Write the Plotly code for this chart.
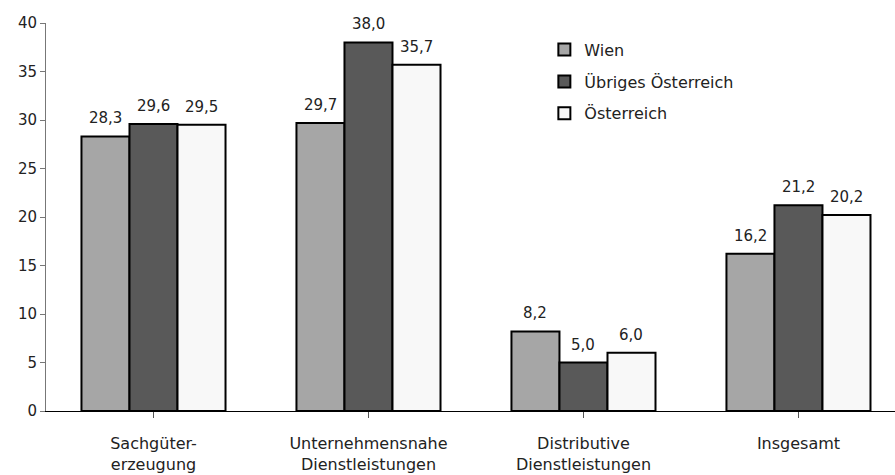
import plotly.graph_objects as go

categories = ["Sachgüter-<br>erzeugung", "Unternehmensnahe<br>Dienstleistungen",
              "Distributive<br>Dienstleistungen", "Insgesamt"]
series_names = ["Wien", "Übriges Österreich", "Österreich"]
wien = [28.3, 29.7, 8.2, 16.2]
uebriges = [29.6, 38.0, 5.0, 21.2]
oesterreich = [29.5, 35.7, 6.0, 20.2]
y_ticks = [0, 5, 10, 15, 20, 25, 30, 35, 40]

colors = ["#a6a6a6", "#595959", "#f8f8f8"]
FONT = "DejaVu Sans"
BARGAP = 0.33

fig = go.Figure()
all_series = [wien, uebriges, oesterreich]
for name, vals, col in zip(series_names, all_series, colors):
    fig.add_trace(go.Bar(
        name=name, x=list(range(len(categories))), y=vals,
        marker=dict(color=col, line=dict(color="#000000", width=2)),
        legendgroup=name,
    ))

# value labels above each bar, placed from the bar values
n = len(all_series)
slot = (1 - BARGAP) / n
for j, vals in enumerate(all_series):
    for i, v in enumerate(vals):
        fig.add_annotation(
            x=i + (j - (n - 1) / 2) * slot, y=v, xref="x", yref="y",
            text=f"{v:.1f}".replace(".", ","), showarrow=False,
            yanchor="bottom", yshift=7,
            font=dict(family=FONT, size=15, color="#222222"),
        )

fig.update_layout(
    width=895, height=475,
    margin=dict(l=46, r=0, t=23, b=64),
    paper_bgcolor="white", plot_bgcolor="white",
    barmode="group", bargap=BARGAP, bargroupgap=0,
    font=dict(family=FONT, size=14, color="#222222"),
    legend=dict(
        x=0.587, y=0.975, xanchor="left", yanchor="top",
        font=dict(family=FONT, size=16, color="#222222"),
        bgcolor="rgba(0,0,0,0)", tracegroupgap=8,
        itemwidth=30,
    ),
    xaxis=dict(
        tickmode="array", tickvals=list(range(len(categories))), ticktext=categories,
        range=[-0.5, 3.449], showline=True, linecolor="#000000", linewidth=1,
        ticks="outside", ticklen=6, tickcolor="#555555",
        ticklabelstandoff=12,
        showgrid=False, zeroline=False,
        tickfont=dict(family=FONT, size=16, color="#222222"),
    ),
    yaxis=dict(
        range=[0, 40], tickvals=y_ticks, showline=True, linecolor="#777777",
        linewidth=1, ticks="outside", ticklen=5, tickcolor="#777777",
        showgrid=False, zeroline=False,
        tickfont=dict(family=FONT, size=15, color="#222222"),
    ),
)

fig.write_html("out.html")
